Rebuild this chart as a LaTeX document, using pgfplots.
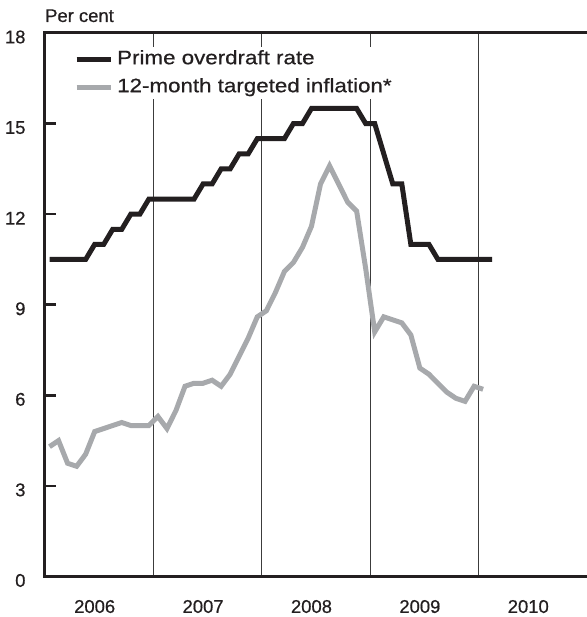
\documentclass[border=0pt]{standalone}
\usepackage{pgfplots}
\pgfplotsset{compat=1.18}
\usepackage{fontspec}
\setmainfont{Liberation Sans}[FakeBold=0.6]
\newfontfamily\legfont{Liberation Sans}[FakeBold=0.6, FakeStretch=1.15]
\definecolor{primeblack}{RGB}{35,31,32}
\definecolor{infgray}{RGB}{167,169,172}
\definecolor{gridgray}{RGB}{60,60,60}
\begin{document}
\begin{tikzpicture}
\begin{axis}[
  scale only axis,
  width=542bp, height=543.5bp,
  xmin=-0.5, xmax=59.5,
  ymin=0, ymax=18,
  ytick={0,3,6,9,12,15,18},
  ytick pos=left,
  xtick={5,17,29,41,53},
  xticklabels={2006,2007,2008,2009,2010},
  extra x ticks={11.5,23.5,35.5,47.5},
  extra x tick labels={},
  extra x tick style={grid=major},
  major grid style={gridgray, line width=1.2bp},
  xtick style={draw=none},
  ytick style={line width=2.6bp, primeblack},
  tick align=inside,
  major tick length=11bp,
  axis line style={draw=none},
  /pgf/number format/assume math mode=true,
  tick label style={font=\fontsize{18.5}{20}\selectfont, text=primeblack},
  yticklabel style={xshift=-16bp, yshift=-4bp},
  xticklabel style={yshift=-20bp},
  legend cell align=left,
  legend image code/.code={\draw[#1] (0bp,0bp) -- (34bp,0bp);},
  legend style={at={(0,1)}, anchor=north west, xshift=28bp, yshift=-14bp,
    draw=none, fill=white, inner sep=1bp, row sep=6bp,
    font=\legfont\fontsize{19.5}{24}\selectfont, text=primeblack,
    nodes={inner xsep=4bp, inner ysep=2bp, text height=14bp, text depth=4bp}},
  clip=false,
]
\addplot[primeblack, line width=5bp, line join=miter] coordinates {
(0,10.5)(1,10.5)(2,10.5)(3,10.5)(4,10.5)(5,11)(6,11)(7,11.5)(8,11.5)(9,12)(10,12)
(11,12.5)(12,12.5)(13,12.5)(14,12.5)(15,12.5)(16,12.5)(17,13)(18,13)(19,13.5)(20,13.5)
(21,14)(22,14)(23,14.5)(24,14.5)(25,14.5)(26,14.5)(27,15)(28,15)(29,15.5)(30,15.5)
(31,15.5)(32,15.5)(33,15.5)(34,15.5)(35,15)(36,15)(37,14)(38,13)(39,13)(40,11)(41,11)
(42,11)(43,10.5)(44,10.5)(45,10.5)(46,10.5)(47,10.5)(48,10.5)(49,10.5)
};
\addlegendentry{Prime overdraft rate}
\addplot[infgray, line width=5bp, line join=miter] coordinates {
(0,4.3)(1,4.5)(2,3.75)(3,3.65)(4,4.05)(5,4.8)(6,4.9)(7,5.0)(8,5.1)(9,5.0)(10,5.0)
(11,5.0)(12,5.3)(13,4.9)(14,5.5)(15,6.3)(16,6.4)(17,6.4)(18,6.5)(19,6.3)(20,6.7)
(21,7.3)(22,7.9)(23,8.6)(24,8.8)(25,9.4)(26,10.1)(27,10.4)(28,10.9)(29,11.6)(30,13.0)
(31,13.6)(32,13.0)(33,12.4)(34,12.1)(35,10.2)(36,8.1)(37,8.6)(38,8.5)(39,8.4)(40,8.0)
(41,6.9)(42,6.7)(43,6.4)(44,6.1)(45,5.9)(46,5.8)(47,6.3)(48,6.2)
};
\addlegendentry{12-month targeted inflation*}
\draw[primeblack, line width=3bp, line cap=rect] (rel axis cs:0,0) -- (rel axis cs:0,1) -- (rel axis cs:1,1);
\draw[primeblack, line width=3bp, line cap=rect] (rel axis cs:0,0) -- (rel axis cs:1,0);
\node[anchor=base west, inner sep=0pt, font=\fontsize{18.5}{20}\selectfont, text=primeblack] at ([yshift=11bp]rel axis cs:0,1) {Per cent};
\end{axis}
\pgfresetboundingbox
\path (-45bp,-40.5bp) rectangle (542bp,576.5bp);
\end{tikzpicture}
\end{document}
